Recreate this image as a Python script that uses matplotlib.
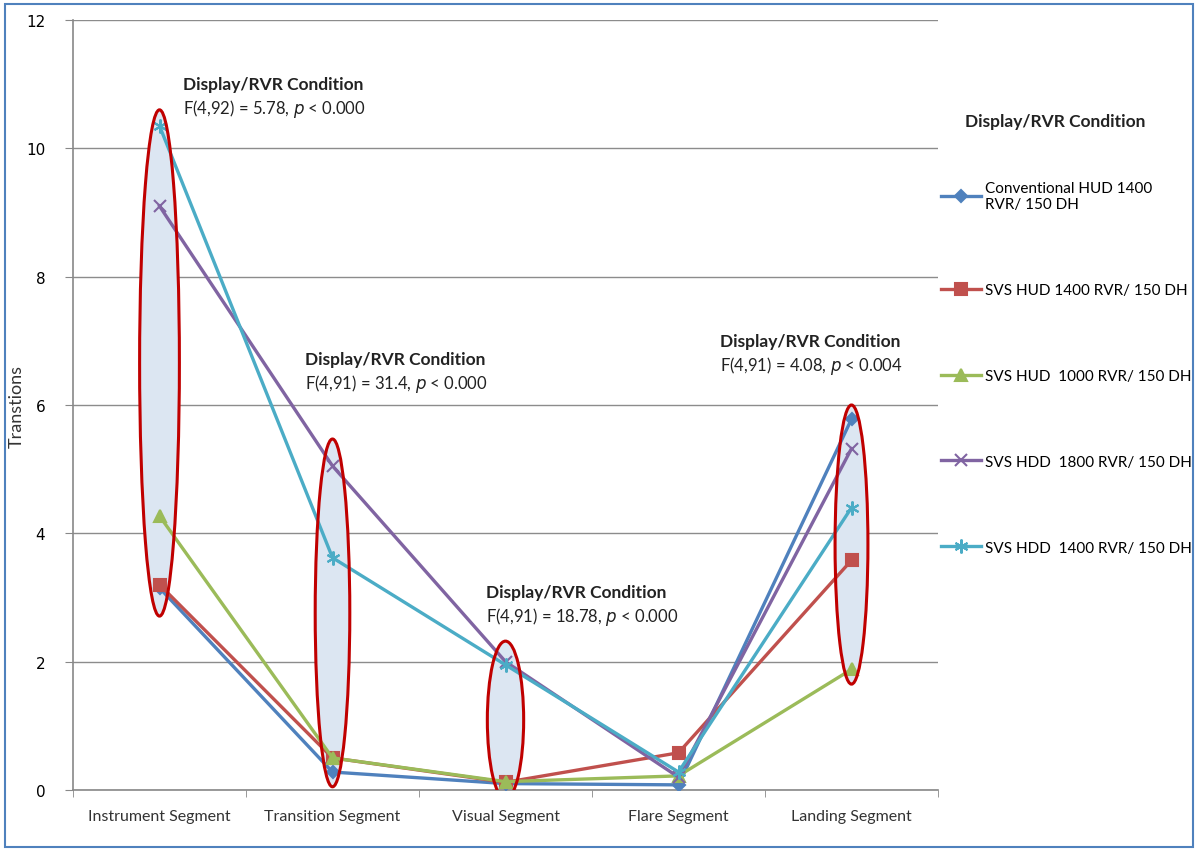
import matplotlib
matplotlib.use("Agg")
import matplotlib.pyplot as plt
from matplotlib.patches import Ellipse, Rectangle
import numpy as np

categories = ["Instrument Segment", "Transition Segment", "Visual Segment",
              "Flare Segment", "Landing Segment"]
series_names = ["Conventional HUD 1400\nRVR/ 150 DH",
                "SVS HUD 1400 RVR/ 150 DH",
                "SVS HUD  1000 RVR/ 150 DH",
                "SVS HDD  1800 RVR/ 150 DH",
                "SVS HDD  1400 RVR/ 150 DH"]
conv_hud_1400 = [3.15, 0.28, 0.10, 0.08, 5.78]
svs_hud_1400 = [3.20, 0.50, 0.12, 0.58, 3.58]
svs_hud_1000 = [4.27, 0.50, 0.13, 0.22, 1.88]
svs_hdd_1800 = [9.10, 5.05, 2.00, 0.20, 5.32]
svs_hdd_1400 = [10.35, 3.62, 1.95, 0.28, 4.40]
series = [conv_hud_1400, svs_hud_1400, svs_hud_1000, svs_hdd_1800, svs_hdd_1400]

# ellipse ranges (low, high) per highlighted segment
ellipse_cats = [0, 1, 2, 4]
ellipse_low = [2.71, 0.05, -0.14, 1.65]
ellipse_high = [10.6, 5.47, 2.32, 6.0]
ellipse_w = [0.23, 0.20, 0.21, 0.19]

stat_titles = ["Display/RVR Condition"] * 4
stat_F = ["F(4,92) = 5.78, ", "F(4,91) = 31.4, ", "F(4,91) = 18.78, ", "F(4,91) = 4.08, "]
stat_p = ["< 0.000", "< 0.000", "< 0.000", "< 0.004"]

colors = ["#4F81BD", "#C0504D", "#9BBB59", "#8064A2", "#4BACC6"]
markers = ["D", "s", "^", "x", (6, 2, 0)]
msizes = [6, 8, 8, 9, 10]

FONT = ["Lato", "DejaVu Sans"]
plt.rcParams['font.family'] = FONT

fig = plt.figure(figsize=(11.98, 8.54), dpi=100)
ax = fig.add_axes([73/1198, 1-791/854, (938-73)/1198, (791-21)/854])

x = np.arange(len(categories))

for ci, lo, hi, w in zip(ellipse_cats, ellipse_low, ellipse_high, ellipse_w):
    e = Ellipse((x[ci], (lo+hi)/2), w, hi-lo, facecolor="#DCE6F2", edgecolor="none", zorder=1)
    ax.add_patch(e)

for vals, name, c, m, ms in zip(series, series_names, colors, markers, msizes):
    ax.plot(x, vals, color=c, lw=2.4, marker=m, markersize=ms, markeredgewidth=1.5,
            label=name, zorder=3)

for ci, lo, hi, w in zip(ellipse_cats, ellipse_low, ellipse_high, ellipse_w):
    e = Ellipse((x[ci], (lo+hi)/2), w, hi-lo, facecolor="none", edgecolor="#C00000", lw=2.2, zorder=4)
    ax.add_patch(e)

ax.set_xlim(-0.5, 4.5)
ax.set_ylim(0, 12)
ax.set_yticks(np.arange(0, 13, 2))
ax.set_yticklabels([str(v) for v in range(0, 13, 2)], fontsize=11, family="DejaVu Sans")
ax.set_xticks(x)
ax.set_xticklabels(categories, fontsize=11.5, color="#333333")
ax.set_xticks(np.arange(-0.5, 5, 1), minor=True)
ax.tick_params(axis="x", which="major", length=0, pad=14)
ax.tick_params(axis="x", which="minor", length=5, color="#888888", direction="out")
ax.tick_params(axis="y", length=6, color="#888888", pad=14)
ax.grid(axis="y", color="#8C8C8C", lw=1)
ax.set_axisbelow(True)
for s in ["top", "right"]:
    ax.spines[s].set_visible(False)
for s in ["left", "bottom"]:
    ax.spines[s].set_color("#888888")
    ax.spines[s].set_linewidth(1.2)
ax.set_ylabel("Transtions", fontsize=13, color="#333333")
ax.yaxis.set_label_coords((25-73)/865, 0.5)

# statistic annotations (pixel positions)
ann_pos = [(183, 85), (305, 360), (486, 593), (720, 342)]
for (px, py), t, f, p in zip(ann_pos, stat_titles, stat_F, stat_p):
    fx, fy = px/1198, 1-py/854
    fig.text(fx, fy, t, fontsize=12.5, fontweight="bold", va="center", ha="left", color="#222222")
    fig.text(fx, fy-24/854, f + r"$p$ " + p, fontsize=12, va="center", ha="left", color="#222222")

# legend
handles, labels = ax.get_legend_handles_labels()
leg = fig.legend(handles, labels, loc="upper left", bbox_to_anchor=(935/1198, 1-176/854),
                 frameon=False, fontsize=11, labelspacing=4.7, handlelength=2.6,
                 handletextpad=0.3, borderaxespad=0)
fig.text(965/1198, 1-122/854, "Display/RVR Condition", fontsize=12.5, fontweight="bold",
         va="center", ha="left", color="#222222")

# outer border
fig.patches.append(Rectangle((5/1198, 6/854), 1188/1198, 843/854, transform=fig.transFigure,
                             fill=False, edgecolor="#4F81BD", lw=1.5))

fig.savefig("out.png", dpi=100)
